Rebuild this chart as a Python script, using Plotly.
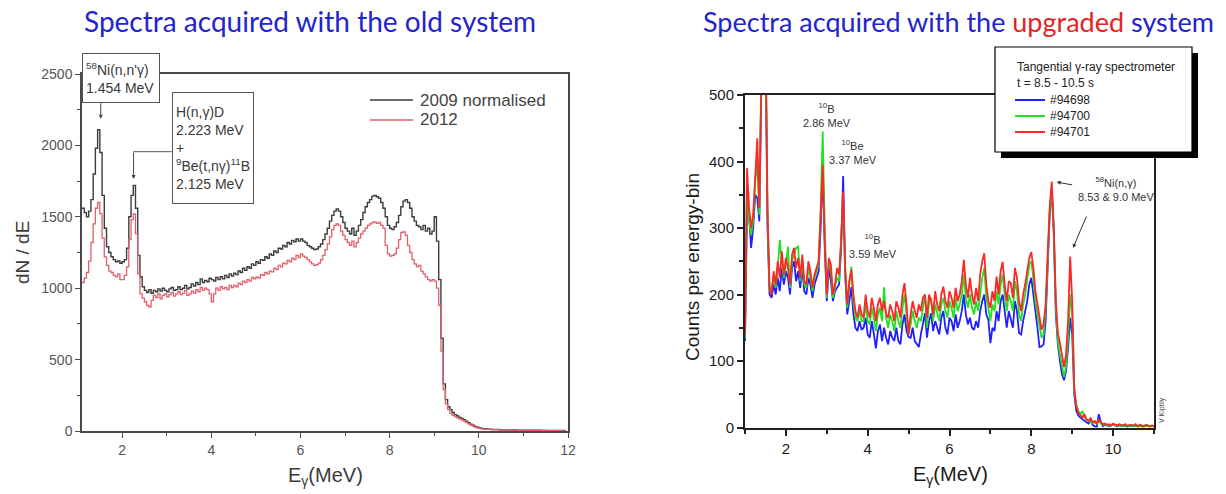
import numpy as np
import plotly.graph_objects as go

# ---------------- data: left panel (old system), 0.05 MeV bins from 1.10 MeV
left_E = np.round(np.arange(1.10, 12.0, 0.05), 2)
left_2009 = [
    1560, 1530, 1500, 1540, 1620, 1800, 1980, 2110,
    1950, 1650, 1420, 1290, 1250, 1220, 1200, 1185, 1190, 1175,
    1185, 1200, 1280, 1500, 1650, 1720, 1560, 1230, 1080, 1010,
    985, 970, 990, 965, 985, 975, 995, 980, 1000, 985,
    975, 995, 1005, 985, 990, 1010, 990, 1000, 1020, 995,
    1005, 1030, 1015, 1040, 1025, 1065, 1040, 1055, 1045, 1070,
    1060, 1050, 1075, 1060, 1080, 1065, 1090, 1075, 1100, 1085,
    1105, 1095, 1120, 1110, 1140, 1125, 1150, 1140, 1170, 1160,
    1185, 1175, 1200, 1195, 1220, 1210, 1240, 1230, 1260, 1250,
    1280, 1275, 1300, 1290, 1320, 1310, 1335, 1325, 1345, 1330,
    1345, 1330, 1320, 1300, 1290, 1280, 1270, 1275, 1290, 1310,
    1340, 1380, 1420, 1470, 1510, 1540, 1555, 1540, 1500, 1460,
    1420, 1400, 1380, 1420, 1370, 1400, 1440, 1480, 1530, 1570,
    1600, 1620, 1645, 1650, 1640, 1630, 1600, 1560, 1500, 1440,
    1420, 1410, 1430, 1460, 1510, 1570, 1610, 1620, 1600, 1560,
    1500, 1470, 1440, 1430, 1410, 1440, 1400, 1420, 1380, 1400,
    1500, 1330, 1060, 650, 330, 220, 170, 150, 130, 115,
    105, 95, 88, 80, 68, 58, 48, 40, 32, 26,
    21, 18, 16, 14, 13, 12, 11, 10, 10, 9,
    9, 8, 8, 8, 7, 7, 7, 6, 6, 6,
    6, 6, 5, 5, 5, 5, 5, 5, 4, 4,
    4, 4, 4, 4, 4, 4, 3, 3, 3, 3,
]
left_2012 = [
    1040, 1070, 1110, 1190, 1320, 1450, 1560, 1600,
    1520, 1350, 1220, 1160, 1120, 1110, 1090, 1080, 1100, 1060,
    1060, 1090, 1150, 1340, 1480, 1520, 1380, 1100, 960, 930,
    905, 880, 870, 915, 950, 935, 960, 925, 950, 960,
    940, 955, 970, 945, 960, 975, 955, 965, 985, 950,
    960, 980, 965, 990, 975, 1005, 985, 1000, 990, 960,
    905, 960, 1000, 985, 1010, 995, 1005, 990, 1020, 1005,
    1020, 1010, 1035, 1025, 1050, 1040, 1060, 1050, 1075, 1065,
    1080, 1070, 1095, 1090, 1110, 1100, 1120, 1115, 1140, 1130,
    1160, 1150, 1175, 1170, 1195, 1185, 1210, 1200, 1230, 1215,
    1240, 1225, 1215, 1200, 1185, 1170, 1160, 1165, 1175, 1200,
    1230, 1270, 1310, 1360, 1410, 1440, 1450, 1440, 1400, 1370,
    1340, 1320, 1300, 1330, 1290, 1320, 1350, 1380, 1400, 1420,
    1440, 1450, 1460, 1465, 1455, 1460, 1440, 1420, 1300, 1240,
    1225, 1230, 1240, 1280, 1340, 1390, 1395, 1370, 1300, 1250,
    1200, 1170, 1150, 1160, 1120, 1100, 1080, 1060, 1050, 1060,
    1050, 1000, 880, 560, 290, 190, 150, 125, 110, 100,
    92, 85, 78, 70, 60, 50, 42, 34, 27, 22,
    18, 15, 13, 12, 11, 10, 10, 9, 9, 8,
    8, 7, 7, 7, 6, 6, 6, 6, 5, 5,
    5, 5, 5, 5, 4, 4, 4, 4, 4, 4,
    4, 3, 3, 3, 3, 3, 3, 3, 3, 3,
]
left_labels = ["2009 normalised", "2012"]

# ---------------- data: right panel (upgraded system), 0.05 MeV steps from 1.00 MeV
right_E = np.round(np.arange(1.00, 11.001, 0.05), 2)
shot_94698 = [
    130, 330, 320, 270, 300, 350, 345, 310, 520, 650,
    580, 300, 200, 195, 215, 200, 225, 205, 240, 215,
    235, 225, 200, 240, 250, 220, 235, 210, 240, 205,
    200, 225, 215, 195, 215, 225, 235, 300, 390, 270,
    190, 240, 220, 190, 205, 210, 215, 270, 378, 230,
    170, 190, 211, 171, 150, 145, 160, 147, 150, 165,
    140, 135, 160, 141, 119, 145, 155, 130, 150, 135,
    125, 145, 135, 130, 150, 130, 125, 155, 170, 145,
    136, 135, 150, 130, 125, 121, 140, 155, 172, 135,
    160, 172, 145, 160, 150, 140, 165, 175, 150, 140,
    165, 160, 145, 170, 150, 160, 175, 200, 170, 155,
    165, 150, 147, 160, 150, 175, 190, 200, 170, 162,
    127, 150, 145, 175, 160, 190, 200, 170, 150, 175,
    160, 150, 190, 175, 142, 140, 160, 175, 190, 215,
    225, 200, 170, 150, 121, 122, 125, 160, 240, 320,
    360, 290, 170, 125, 100, 80, 71, 85, 120, 165,
    140, 50, 25, 18, 15, 12, 10, 8, 6, 10,
    4, 2, 0, 20, 8, 2, 4, 3, 2, 3,
    4, 3, 2, 3, 2, 3, 2, 1, 3, 2,
    2, 3, 1, 2, 2, 1, 3, 2, 1, 2,
    1,
]
shot_94700 = [
    135, 360, 310, 290, 310, 370, 400, 320, 540, 680,
    600, 320, 205, 210, 225, 210, 240, 282, 250, 225,
    245, 272, 210, 250, 260, 270, 272, 220, 250, 215,
    210, 240, 225, 205, 225, 235, 245, 330, 445, 300,
    195, 250, 235, 195, 210, 225, 220, 275, 340, 235,
    180, 215, 242, 190, 165, 160, 177, 160, 160, 185,
    160, 155, 180, 165, 145, 170, 180, 160, 211, 165,
    150, 170, 160, 145, 175, 160, 150, 180, 200, 170,
    140, 155, 175, 160, 150, 165, 160, 180, 200, 150,
    190, 195, 160, 185, 170, 160, 185, 195, 175, 165,
    190, 180, 165, 195, 175, 185, 200, 230, 195, 180,
    200, 180, 170, 190, 175, 205, 225, 240, 195, 180,
    160, 185, 175, 205, 185, 215, 230, 200, 175, 200,
    190, 175, 220, 205, 170, 160, 185, 200, 220, 245,
    250, 225, 190, 170, 150, 135, 140, 175, 250, 325,
    355, 300, 180, 130, 110, 90, 76, 92, 135, 200,
    170, 55, 35, 25, 20, 25, 15, 12, 10, 8,
    6, 8, 5, 10, 6, 4, 5, 3, 4, 3,
    4, 3, 4, 2, 3, 3, 2, 3, 2, 3,
    2, 3, 2, 2, 3, 2, 2, 3, 2, 2,
    2,
]
shot_94701 = [
    140, 390, 330, 300, 320, 390, 435, 330, 560, 700,
    620, 330, 210, 200, 235, 215, 250, 225, 265, 230,
    255, 240, 215, 260, 270, 240, 255, 225, 260, 220,
    215, 250, 235, 210, 230, 240, 250, 320, 395, 280,
    200, 255, 245, 200, 215, 240, 230, 280, 355, 240,
    185, 220, 237, 200, 175, 165, 185, 170, 165, 200,
    175, 165, 195, 180, 160, 185, 195, 175, 190, 170,
    165, 185, 175, 160, 190, 180, 165, 200, 217, 185,
    140, 170, 190, 175, 165, 185, 175, 195, 200, 165,
    200, 190, 170, 205, 185, 175, 200, 212, 190, 180,
    205, 195, 180, 210, 190, 200, 220, 252, 215, 195,
    225, 200, 185, 210, 190, 230, 250, 262, 215, 190,
    180, 205, 190, 227, 200, 235, 249, 215, 190, 220,
    217, 195, 240, 225, 190, 175, 200, 215, 235, 255,
    264, 240, 205, 185, 165, 147, 155, 185, 260, 330,
    370, 300, 190, 142, 127, 105, 91, 110, 160, 257,
    190, 60, 31, 22, 18, 15, 20, 12, 10, 14,
    8, 10, 6, 12, 8, 5, 6, 4, 5, 3,
    6, 4, 3, 5, 4, 3, 5, 2, 4, 3,
    3, 5, 2, 4, 3, 2, 4, 3, 2, 3,
    2,
]
shot_labels = ["#94698", "#94700", "#94701"]
shot_colors = ["#1f1fff", "#22e022", "#ff2626"]

# ---------------- helpers (pixel -> paper)
W, H = 1226, 494
def px(x):
    return x / W
def py(y):
    return 1 - y / H

FONT = "Liberation Sans, Arial, sans-serif"
TITLE_FONT = "Lato, Open Sans, sans-serif"
LGRAY = "#3c3c3c"
LRED = "#e2606e"

fig = go.Figure()
fig.add_trace(go.Scatter(x=left_E, y=left_2009, mode="lines", xaxis="x", yaxis="y",
                         line=dict(color=LGRAY, width=1.4, shape="hv"), showlegend=False))
fig.add_trace(go.Scatter(x=left_E, y=left_2012, mode="lines", xaxis="x", yaxis="y",
                         line=dict(color=LRED, width=1.3, shape="hv"), showlegend=False))
for vals, col in zip([shot_94698, shot_94700, shot_94701], shot_colors):
    fig.add_trace(go.Scatter(x=right_E, y=vals, mode="lines", xaxis="x2", yaxis="y2",
                             line=dict(color=col, width=1.8), showlegend=False))

ax_common = dict(showline=True, mirror=True, ticks="outside", showgrid=False, zeroline=False)

fig.update_layout(
    width=W, height=H, margin=dict(l=0, r=0, t=0, b=0, pad=0, autoexpand=False),
    paper_bgcolor="white", plot_bgcolor="white",
    xaxis=dict(domain=[px(82), px(568)], range=[1.1, 12], anchor="y",
               tick0=0, dtick=2, ticklen=5, tickwidth=1.2, linecolor="#4a4a4a", linewidth=1.5,
               tickcolor="#4a4a4a", tickfont=dict(family=FONT, size=14, color="#555"),
               minor=dict(ticks="outside", tick0=0, dtick=1, ticklen=3, tickcolor="#4a4a4a"),
               **ax_common),
    yaxis=dict(domain=[py(431), py(74)], range=[0, 2500], anchor="x",
               tick0=0, dtick=500, ticklen=5, tickwidth=1.2, linecolor="#4a4a4a", linewidth=1.5,
               tickcolor="#4a4a4a", tickfont=dict(family=FONT, size=14, color="#555"),
               minor=dict(ticks="outside", tick0=0, dtick=250, ticklen=3, tickcolor="#4a4a4a"),
               **ax_common),
    xaxis2=dict(domain=[px(745), px(1154)], range=[1, 11], anchor="y2",
                tick0=0, dtick=2, ticklen=6, tickwidth=1.5, linecolor="#222", linewidth=2,
                tickcolor="#222", tickfont=dict(family=FONT, size=15, color="#1a1a1a"),
                minor=dict(ticks="outside", tick0=0, dtick=1, ticklen=4, tickcolor="#222"),
                **ax_common),
    yaxis2=dict(domain=[py(427.5), py(95)], range=[0, 500], anchor="x2",
                tick0=0, dtick=100, ticklen=6, tickwidth=1.5, linecolor="#222", linewidth=2,
                tickcolor="#222", tickfont=dict(family=FONT, size=15, color="#1a1a1a"),
                minor=dict(ticks="outside", tick0=0, dtick=50, ticklen=4, tickcolor="#222"),
                **ax_common),
)

ann = []
shapes = []

def text(x, y, s, size=12, color="#333", xanchor="center", yanchor="middle", family=FONT, **kw):
    ann.append(dict(x=px(x), y=py(y), xref="paper", yref="paper", text=s, showarrow=False,
                    xanchor=xanchor, yanchor=yanchor, font=dict(family=family, size=size, color=color), **kw))

# titles
text(310, 21, "Spectra acquired with the old system", size=28, color="#2424cc", family=TITLE_FONT)
text(958, 21, "Spectra acquired with the <span style='color:#e42424'>upgraded</span> system",
     size=27, color="#2424cc", family=TITLE_FONT)

# axis titles
text(325, 476, "E<sub>γ</sub>(MeV)", size=20, color="#3a3a3a")
text(22, 252, "dN / dE", size=19, color="#3a3a3a", textangle=-90)
text(950, 475, "E<sub>γ</sub>(MeV)", size=20, color="#1a1a1a")
text(692, 267, "Counts per energy-bin", size=19, color="#1a1a1a", textangle=-90)

# left annotation boxes
ann.append(dict(x=px(81.7), y=py(53), xref="paper", yref="paper", xanchor="left", yanchor="top",
                text="<sup>58</sup>Ni(n,n'γ)<br>1.454 MeV", showarrow=False, align="left",
                width=70, height=42, borderpad=3, borderwidth=1, bordercolor="#555", bgcolor="white",
                font=dict(family=FONT, size=14, color="#3a3a3a")))
ann.append(dict(x=px(171.7), y=py(91.7), xref="paper", yref="paper", xanchor="left", yanchor="top",
                text="H(n,γ)D<br>2.223 MeV<br>+<br><sup>9</sup>Be(t,nγ)<sup>11</sup>B<br>2.125 MeV",
                showarrow=False, align="left",
                width=74, height=104, borderpad=3, borderwidth=1, bordercolor="#555", bgcolor="white",
                font=dict(family=FONT, size=14, color="#3a3a3a")))
# arrows to the left peaks
ann.append(dict(x=1.52, y=2187, xref="x", yref="y", text="", showarrow=True, ax=0, ay=-17,
                arrowhead=2, arrowsize=0.8, arrowwidth=1, arrowcolor="#444", standoff=0))
ann.append(dict(x=2.257, y=1765, xref="x", yref="y", text="", showarrow=True, ax=0, ay=-28,
                arrowhead=2, arrowsize=0.8, arrowwidth=1, arrowcolor="#444", standoff=0))
shapes.append(dict(type="line", xref="paper", yref="paper", x0=px(133.3), x1=px(171.7),
                   y0=py(151.7), y1=py(151.7), line=dict(color="#555", width=1)))

# left legend
for i, (lab, col) in enumerate(zip(left_labels, [LGRAY, LRED])):
    yy = 100 + 20 * i
    shapes.append(dict(type="line", xref="paper", yref="paper", x0=px(370), x1=px(413),
                       y0=py(yy), y1=py(yy), line=dict(color=col, width=1.4)))
    text(418, yy, lab, size=17, color="#444", xanchor="left")

# right legend box with shadow
shapes.append(dict(type="rect", xref="paper", yref="paper", x0=px(1001), x1=px(1198),
                   y0=py(158), y1=py(53), fillcolor="black", line=dict(width=0), layer="above"))
shapes.append(dict(type="rect", xref="paper", yref="paper", x0=px(995), x1=px(1192),
                   y0=py(152), y1=py(47), fillcolor="white", line=dict(color="black", width=1.2),
                   layer="above"))
text(1015, 67, "Tangential γ-ray spectrometer", size=12, color="#222", xanchor="left")
text(1015, 83, "t = 8.5 - 10.5 s", size=12, color="#222", xanchor="left")
for i, (lab, col) in enumerate(zip(shot_labels, shot_colors)):
    yy = 100 + 16 * i
    shapes.append(dict(type="line", xref="paper", yref="paper", x0=px(1015), x1=px(1045),
                       y0=py(yy), y1=py(yy), line=dict(color=col, width=2), layer="above"))
    text(1048, yy, lab, size=12, color="#222", xanchor="left")

# right peak labels
text(827, 115, "<sup>10</sup>B<br>2.86 MeV", size=11, color="#333")
text(853, 152, "<sup>10</sup>Be<br>3.37 MeV", size=11, color="#333")
text(873, 246, "<sup>10</sup>B<br>3.59 MeV", size=11, color="#333")
text(1116, 189, "<sup>58</sup>Ni(n,γ)<br>8.53 &amp; 9.0 MeV", size=11, color="#333")
ann.append(dict(x=8.62, y=369, xref="x2", yref="y2", text="", showarrow=True, ax=17, ay=3,
                arrowhead=2, arrowsize=0.8, arrowwidth=1, arrowcolor="#333", standoff=0))
ann.append(dict(x=9.02, y=270, xref="x2", yref="y2", text="", showarrow=True, ax=14, ay=-33,
                arrowhead=2, arrowsize=0.8, arrowwidth=1, arrowcolor="#333", standoff=0))
text(1162, 410, "V Kiptily", size=7, color="#444", textangle=-90)

fig.update_layout(annotations=ann, shapes=shapes)
fig.write_html("out.html", config={"displayModeBar": False},
               post_script="document.body.style.margin='0px';document.body.style.overflow='hidden';")
